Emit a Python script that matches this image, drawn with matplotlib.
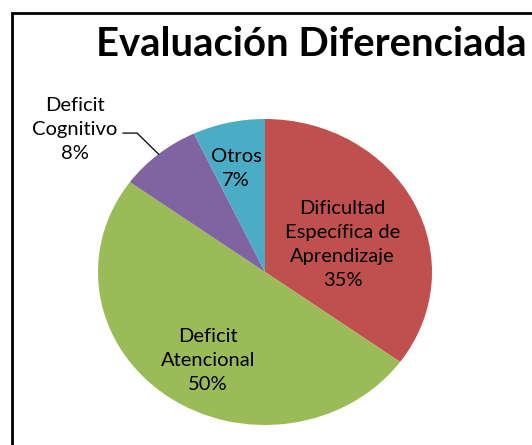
import matplotlib.pyplot as plt
import numpy as np
from matplotlib.patches import Rectangle

## données
categories = ['Dificultad\nEspecífica de\nAprendizaje', 'Deficit\nAtencional',
              'Deficit\nCognitivo', 'Otros']
valeurs = [35, 50, 8, 7]
couleurs = ['#C0504D', '#9BBB59', '#8064A2', '#4BACC6']
titre = 'Evaluación Diferenciada'

## position des étiquettes (rayon, angle en degrés) dans le repère du camembert
pos_etiquettes = [(0.50, 21.4), (0.67, 239.3), (1.47, 140.8), (0.70, 104.3)]

W, H = 532, 445
fig = plt.figure(figsize=(W / 100, H / 100), dpi=100)
fig.patch.set_facecolor('white')

# cadre (dépasse à droite et en bas)
fig.add_artist(Rectangle((12 / W, -0.05), 1.1, 1 - 13 / H + 0.05,
                         transform=fig.transFigure, fill=False,
                         edgecolor='black', linewidth=2))

fig.text(311 / W, 1 - 45 / H, titre, fontsize=28.8, fontweight='bold',
         family='Lato', ha='center', va='center', color='black')

# camembert elliptique
ax = fig.add_axes([98 / W, 20 / H, 334 / W, 306 / H])
wedges, _ = ax.pie(valeurs, colors=couleurs, startangle=90, counterclock=False,
                   radius=1, wedgeprops=dict(linewidth=0))
ax.set_xlim(-1, 1)
ax.set_ylim(-1, 1)
ax.set_aspect('auto')
ax.axis('off')

for w, cat, val, (r, ang) in zip(wedges, categories, valeurs, pos_etiquettes):
    a = np.radians(ang)
    ax.text(r * np.cos(a), r * np.sin(a), cat + '\n' + str(val) + '%',
            ha='center', va='center', fontsize=14.5, family='Lato',
            linespacing=1.5, color='black', clip_on=False)

# ligne de rappel pour Deficit Cognitivo
w = wedges[2]
mid = np.radians((w.theta1 + w.theta2) / 2)
x_fin, y_fin = np.cos(mid), np.sin(mid)
ax.plot([-0.850, -0.766, x_fin], [0.908, 0.908, y_fin], color='black',
        linewidth=0.9, clip_on=False)

fig.savefig('out.png', dpi=100)
